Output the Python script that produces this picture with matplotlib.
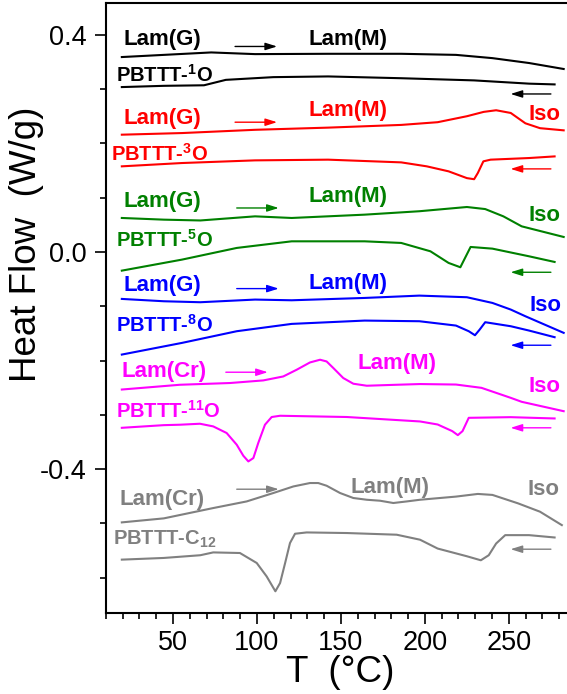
import numpy as np
import matplotlib
matplotlib.use('Agg')
import matplotlib.pyplot as plt

# ____________________________ DATOS ____________________________________
# PBTTT-1O (negro)
t_1o_heat = [19.6, 44.6, 72.8, 98.9, 142.4, 185.9, 218.5, 240.2, 262.0, 282.6]
hf_1o_heat = [0.359, 0.363, 0.3675, 0.3644, 0.365, 0.365, 0.363, 0.357, 0.348, 0.337]
t_1o_cool = [19.6, 44.6, 68.5, 81.5, 109.8, 142.4, 185.9, 229.3, 262.0, 277.2]
hf_1o_cool = [0.3037, 0.306, 0.307, 0.317, 0.322, 0.3233, 0.320, 0.316, 0.310, 0.3086]

# PBTTT-3O (rojo)
t_3o_heat = [19.6, 55.4, 98.9, 142.4, 185.9, 207.6, 225.0, 235.0, 242.4, 251.1, 259.8, 268.5, 282.6]
hf_3o_heat = [0.216, 0.219, 0.225, 0.229, 0.234, 0.239, 0.250, 0.258, 0.261, 0.256, 0.237, 0.228, 0.224]
t_3o_cool = [19.6, 55.4, 98.9, 142.4, 185.9, 201.1, 214.1, 225.0, 229.3, 231.5, 234.8, 239.1, 262.0, 277.2]
hf_3o_cool = [0.1577, 0.1638, 0.1687, 0.170, 0.165, 0.1577, 0.1485, 0.136, 0.134, 0.1454, 0.1669, 0.170, 0.173, 0.176]

# PBTTT-5O (verde)
t_5o_heat = [19.6, 44.6, 66.3, 98.9, 120.7, 164.1, 196.7, 225.0, 235.9, 246.7, 257.6, 282.6]
hf_5o_heat = [0.0626, 0.0595, 0.058, 0.0656, 0.0626, 0.0687, 0.075, 0.0828, 0.079, 0.0656, 0.0472, 0.0276]
t_5o_cool = [19.6, 55.4, 88.0, 120.7, 164.1, 185.9, 203.3, 214.1, 221.1, 223.9, 227.2, 240.2, 262.0, 277.2]
hf_5o_cool = [-0.0344, -0.0141, 0.0074, 0.0196, 0.0196, 0.0166, 0.0012, -0.0202, -0.0282, -0.011, 0.0092, 0.0061,
              -0.008, -0.0184]

# PBTTT-8O (azul)
t_8o_heat = [19.6, 44.6, 66.3, 98.9, 120.7, 164.1, 196.7, 225.0, 240.2, 251.1, 259.8, 282.6]
hf_8o_heat = [-0.0865, -0.0908, -0.0926, -0.0877, -0.089, -0.0847, -0.0804, -0.0834, -0.0939, -0.1061, -0.1184, -0.149]
t_8o_cool = [19.6, 55.4, 88.0, 120.7, 164.1, 196.7, 218.5, 226.1, 229.8, 232.6, 235.9, 251.1, 262.0, 277.2]
hf_8o_cool = [-0.189, -0.1675, -0.146, -0.1325, -0.1264, -0.1276, -0.1356, -0.146, -0.1534, -0.143, -0.1294, -0.1368,
              -0.1448, -0.157]

# PBTTT-11O (magenta)
t_11o_heat = [19.6, 54.2, 84.0, 103.8, 115.7, 123.7, 131.6, 137.6, 141.5, 145.5, 151.4, 157.4, 165.4, 183.2, 197.1,
              218.5, 233.7, 251.1, 257.6, 282.6]
hf_11o_heat = [-0.2534, -0.2446, -0.2414, -0.2366, -0.2293, -0.2169, -0.2035, -0.1985, -0.2017, -0.2138, -0.2322,
               -0.2427, -0.2464, -0.2446, -0.2433, -0.2442, -0.2503, -0.2687, -0.276, -0.2933]
t_11o_cool = [19.6, 44.6, 54.2, 66.1, 74.0, 82.0, 88.0, 91.9, 94.9, 97.9, 100.8, 104.8, 108.8, 113.8, 153.5, 197.1,
              207.6, 216.3, 219.6, 222.4, 226.1, 251.1, 277.2]
hf_11o_cool = [-0.3239, -0.319, -0.3182, -0.3164, -0.3213, -0.3335, -0.3551, -0.3753, -0.3858, -0.3796, -0.3519,
               -0.3182, -0.304, -0.3017, -0.304, -0.3122, -0.3178, -0.33, -0.3374, -0.33, -0.3055, -0.3043, -0.3067]

# PBTTT-C12 (gris)
t_c12_heat = [19.6, 44.6, 74.0, 93.9, 109.8, 121.7, 131.6, 136.5, 141.5, 149.5, 157.4, 165.4, 173.3, 181.2, 189.2,
              197.1, 218.5, 231.5, 240.2, 255.4, 268.5, 281.5]
hf_c12_heat = [-0.4981, -0.4907, -0.4717, -0.4595, -0.444, -0.4319, -0.4256, -0.4256, -0.4306, -0.444, -0.4532,
               -0.4564, -0.4582, -0.4624, -0.4595, -0.4564, -0.4506, -0.4457, -0.4475, -0.463, -0.4784, -0.5031]
t_c12_cool = [19.6, 44.6, 66.3, 74.0, 89.9, 99.9, 105.8, 111.0, 113.8, 116.8, 119.7, 122.7, 129.6, 153.5, 183.2,
              197.1, 207.6, 225.0, 233.3, 238.0, 242.4, 247.8, 262.0, 277.2]
hf_c12_cool = [-0.5667, -0.5636, -0.5586, -0.5534, -0.5545, -0.5729, -0.5976, -0.625, -0.6098, -0.5729, -0.5361,
               -0.519, -0.5166, -0.5177, -0.5208, -0.530, -0.5463, -0.5605, -0.5679, -0.5586, -0.537, -0.5216,
               -0.5216, -0.5259]

# _______________________ ETIQUETAS Y FLECHAS ____________________________
colores = ['black', '#ff0000', '#008000', '#0000ff', '#ff00ff', '#808080']
nombres = [r'PBTTT-$^{1}$O', r'PBTTT-$^{3}$O', r'PBTTT-$^{5}$O', r'PBTTT-$^{8}$O', r'PBTTT-$^{11}$O', r'PBTTT-C$_{12}$']
nombre_x = [15.9, 13.0, 15.9, 15.9, 15.9, 14.1]
nombre_y = [0.326, 0.181, 0.0227, -0.1337, -0.2933, -0.5296]
fase_baja = ['Lam(G)', 'Lam(G)', 'Lam(G)', 'Lam(G)', 'Lam(Cr)', 'Lam(Cr)']
fase_baja_x = [20.7, 20.7, 20.7, 20.7, 19.6, 18.5]
fase_baja_y = [0.391, 0.2466, 0.0933, -0.0613, -0.2209, -0.4556]
lam_m_x = [130.5, 130.5, 130.5, 130.5, 160.0, 156.0]
lam_m_y = [0.391, 0.2607, 0.1025, -0.0583, -0.2055, -0.4333]
iso_x = [None, 261.5, 261.5, 262.5, 261.5, 261.0]
iso_y = [None, 0.254, 0.0669, -0.098, -0.2485, -0.437]
flecha_der_x = [(87.0, 112.0), (87.0, 112.0), (88.0, 113.0), (88.0, 113.0), (81.5, 106.5), (88.0, 113.0)]
flecha_der_y = [0.3785, 0.239, 0.081, -0.0675, -0.2215, -0.437]
flecha_izq_x = (275.0, 251.0)
flecha_izq_y = [0.291, 0.153, -0.0374, -0.1718, -0.3239, -0.5475]

calent = [(t_1o_heat, hf_1o_heat), (t_3o_heat, hf_3o_heat), (t_5o_heat, hf_5o_heat),
          (t_8o_heat, hf_8o_heat), (t_11o_heat, hf_11o_heat), (t_c12_heat, hf_c12_heat)]
enfri = [(t_1o_cool, hf_1o_cool), (t_3o_cool, hf_3o_cool), (t_5o_cool, hf_5o_cool),
         (t_8o_cool, hf_8o_cool), (t_11o_cool, hf_11o_cool), (t_c12_cool, hf_c12_cool)]

# _______________________________ FIGURA ________________________________
plt.rcParams['font.family'] = ['Liberation Sans', 'DejaVu Sans']
plt.rcParams['mathtext.fontset'] = 'custom'
plt.rcParams['mathtext.rm'] = 'Liberation Sans:bold'
plt.rcParams['mathtext.it'] = 'Liberation Sans:bold'
plt.rcParams['mathtext.bf'] = 'Liberation Sans:bold'

fig = plt.figure(figsize=(5.67, 6.94), dpi=100)
ax = fig.add_axes([105.7 / 567, 81 / 694, 470.4 / 567, 609.7 / 694])

for i in range(6):
    c = colores[i]
    ax.plot(calent[i][0], calent[i][1], color=c, lw=1.5, solid_joinstyle='round')
    ax.plot(enfri[i][0], enfri[i][1], color=c, lw=1.5, solid_joinstyle='round')

    txt = dict(color=c, fontsize=16, fontweight='bold', va='center', ha='left')
    ax.text(nombre_x[i], nombre_y[i], nombres[i], **dict(txt, fontsize=14.5))
    ax.text(fase_baja_x[i], fase_baja_y[i], fase_baja[i], **txt)
    ax.text(lam_m_x[i], lam_m_y[i], 'Lam(M)', **txt)
    if iso_x[i] is not None:
        ax.text(iso_x[i], iso_y[i], 'Iso', **txt)

    flecha = dict(arrowstyle='-|>,head_length=0.7,head_width=0.22', color=c, lw=1, shrinkA=0, shrinkB=0)
    ax.annotate('', xy=(flecha_der_x[i][1], flecha_der_y[i]), xytext=(flecha_der_x[i][0], flecha_der_y[i]),
                arrowprops=flecha)
    ax.annotate('', xy=(flecha_izq_x[1], flecha_izq_y[i]), xytext=(flecha_izq_x[0], flecha_izq_y[i]),
                arrowprops=flecha)

# Ejes
ax.set_xlim(10, 290)
ax.set_ylim(-0.665, 0.458)
ax.set_xticks([50, 100, 150, 200, 250])
ax.set_xticks(np.arange(10, 291, 10), minor=True)
ax.set_yticks([-0.4, 0.0, 0.4])
ax.set_yticklabels(['-0.4', '0.0', '0.4'])
ax.set_yticks([-0.6, -0.5, -0.3, -0.2, -0.1, 0.1, 0.2, 0.3], minor=True)
ax.tick_params(which='major', direction='out', length=8, width=1.2, labelsize=19.5, pad=4)
ax.tick_params(which='minor', direction='out', length=4, width=1.2)
ax.tick_params(axis='y', pad=6)
for s in ['left', 'bottom', 'top']:
    ax.spines[s].set_linewidth(1.5)
ax.spines['right'].set_visible(False)

# Titulos de ejes
fig.text(27 / 567, 1 - 244 / 694, 'Heat Flow  (W/g)', rotation=90, fontsize=26.5, ha='center', va='center')
fig.text(340 / 567, 1 - 673 / 694, 'T  (\u00b0C)', fontsize=26.5, ha='center', va='center')

fig.savefig('out.png', dpi=100)
